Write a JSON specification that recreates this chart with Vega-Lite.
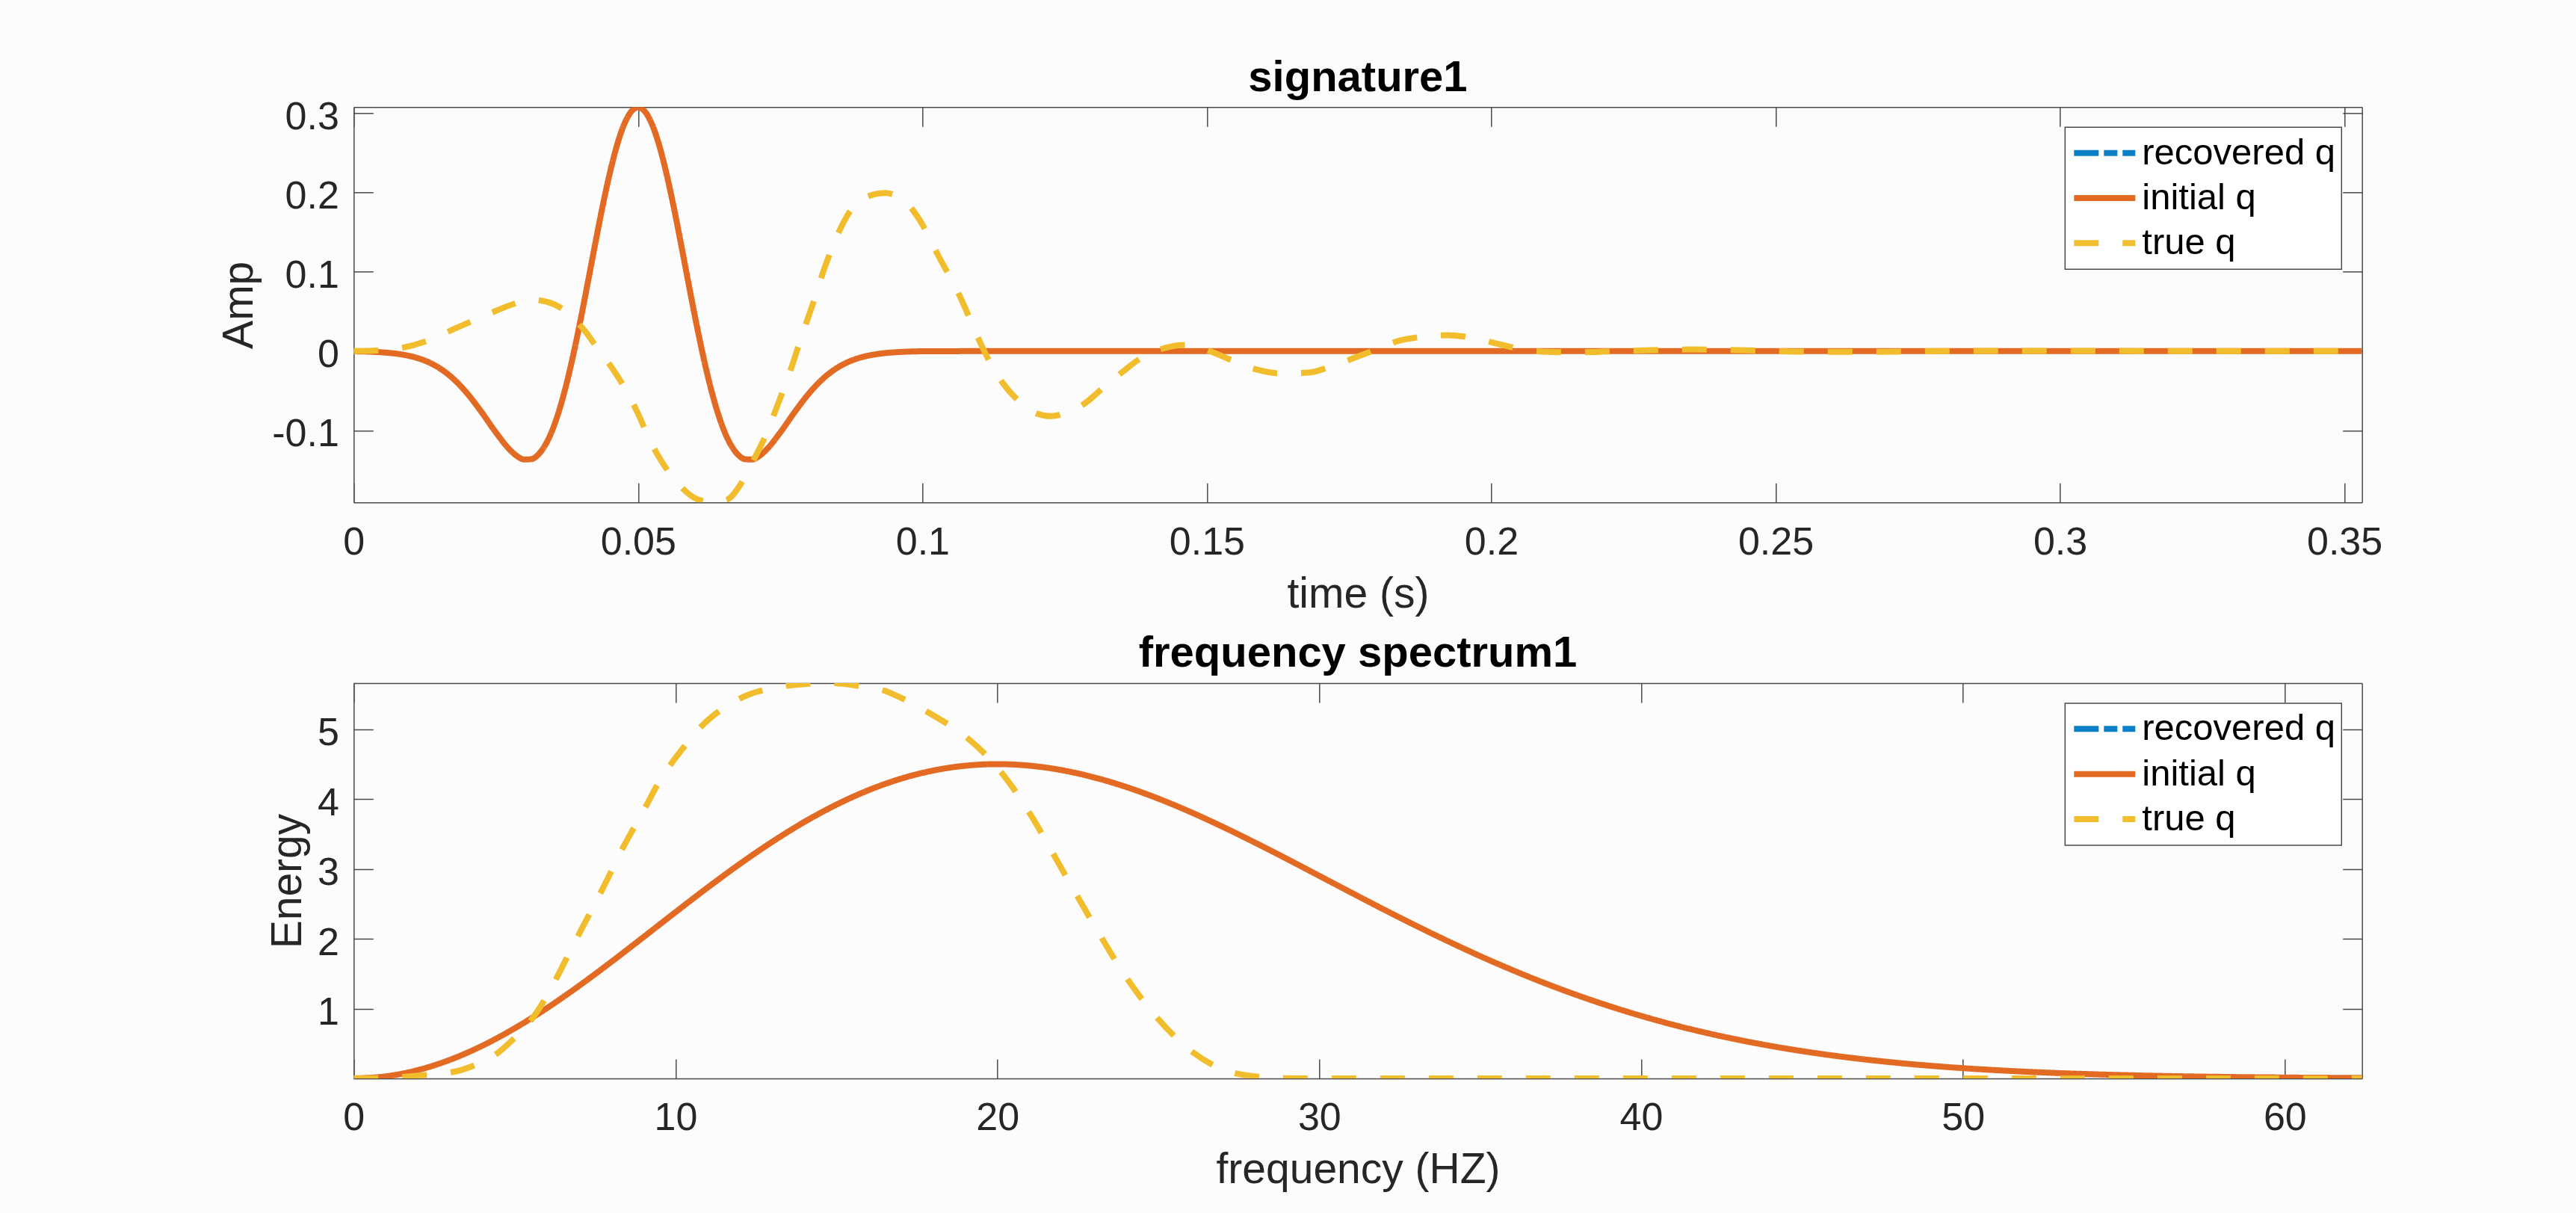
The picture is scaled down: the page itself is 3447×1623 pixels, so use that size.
{
  "$schema": "https://vega.github.io/schema/vega-lite/v6.json",
  "autosize": {"type": "none"},
  "padding": {"left": 473.3, "top": 143.3, "right": 2973.7, "bottom": 1479.7},
  "background": "#fcfcfc",
  "spacing": 241.7,
  "bounds": "flush",
  "datasets": {
    "sig": [
      {"s": "initial q", "t": 0, "v": -0.0003},
      {"s": "initial q", "t": 0.0025, "v": -0.0007},
      {"s": "initial q", "t": 0.005, "v": -0.0016},
      {"s": "initial q", "t": 0.0075, "v": -0.0033},
      {"s": "initial q", "t": 0.01, "v": -0.0065},
      {"s": "initial q", "t": 0.0125, "v": -0.012},
      {"s": "initial q", "t": 0.015, "v": -0.0211},
      {"s": "initial q", "t": 0.0175, "v": -0.0348},
      {"s": "initial q", "t": 0.02, "v": -0.0537},
      {"s": "initial q", "t": 0.0225, "v": -0.0771},
      {"s": "initial q", "t": 0.025, "v": -0.1025},
      {"s": "initial q", "t": 0.0275, "v": -0.1247},
      {"s": "initial q", "t": 0.02875, "v": -0.1325},
      {"s": "initial q", "t": 0.03, "v": -0.1366},
      {"s": "initial q", "t": 0.03125, "v": -0.1361},
      {"s": "initial q", "t": 0.0325, "v": -0.13},
      {"s": "initial q", "t": 0.03375, "v": -0.1174},
      {"s": "initial q", "t": 0.035, "v": -0.0981},
      {"s": "initial q", "t": 0.03625, "v": -0.0717},
      {"s": "initial q", "t": 0.0375, "v": -0.0387},
      {"s": "initial q", "t": 0.03875, "v": 0.0001},
      {"s": "initial q", "t": 0.04, "v": 0.0435},
      {"s": "initial q", "t": 0.04125, "v": 0.0897},
      {"s": "initial q", "t": 0.0425, "v": 0.1366},
      {"s": "initial q", "t": 0.04375, "v": 0.182},
      {"s": "initial q", "t": 0.045, "v": 0.2232},
      {"s": "initial q", "t": 0.04625, "v": 0.2582},
      {"s": "initial q", "t": 0.0475, "v": 0.2847},
      {"s": "initial q", "t": 0.04875, "v": 0.3013},
      {"s": "initial q", "t": 0.05, "v": 0.307},
      {"s": "initial q", "t": 0.05125, "v": 0.3013},
      {"s": "initial q", "t": 0.0525, "v": 0.2847},
      {"s": "initial q", "t": 0.05375, "v": 0.2582},
      {"s": "initial q", "t": 0.055, "v": 0.2232},
      {"s": "initial q", "t": 0.05625, "v": 0.182},
      {"s": "initial q", "t": 0.0575, "v": 0.1366},
      {"s": "initial q", "t": 0.05875, "v": 0.0897},
      {"s": "initial q", "t": 0.06, "v": 0.0435},
      {"s": "initial q", "t": 0.06125, "v": 0.0001},
      {"s": "initial q", "t": 0.0625, "v": -0.0387},
      {"s": "initial q", "t": 0.06375, "v": -0.0717},
      {"s": "initial q", "t": 0.065, "v": -0.0981},
      {"s": "initial q", "t": 0.06625, "v": -0.1174},
      {"s": "initial q", "t": 0.0675, "v": -0.13},
      {"s": "initial q", "t": 0.06875, "v": -0.1361},
      {"s": "initial q", "t": 0.07, "v": -0.1366},
      {"s": "initial q", "t": 0.07125, "v": -0.1325},
      {"s": "initial q", "t": 0.0725, "v": -0.1247},
      {"s": "initial q", "t": 0.075, "v": -0.1025},
      {"s": "initial q", "t": 0.0775, "v": -0.0771},
      {"s": "initial q", "t": 0.08, "v": -0.0537},
      {"s": "initial q", "t": 0.0825, "v": -0.0348},
      {"s": "initial q", "t": 0.085, "v": -0.0211},
      {"s": "initial q", "t": 0.0875, "v": -0.012},
      {"s": "initial q", "t": 0.09, "v": -0.0065},
      {"s": "initial q", "t": 0.0925, "v": -0.0033},
      {"s": "initial q", "t": 0.095, "v": -0.0016},
      {"s": "initial q", "t": 0.0975, "v": -0.0007},
      {"s": "initial q", "t": 0.1, "v": -0.0003},
      {"s": "initial q", "t": 0.12, "v": 0},
      {"s": "initial q", "t": 0.2, "v": 0},
      {"s": "initial q", "t": 0.3, "v": 0},
      {"s": "initial q", "t": 0.3531, "v": 0},
      {"s": "true q", "t": 0, "v": 0},
      {"s": "true q", "t": 0.004, "v": 0.0007},
      {"s": "true q", "t": 0.008, "v": 0.0035},
      {"s": "true q", "t": 0.013, "v": 0.013},
      {"s": "true q", "t": 0.018, "v": 0.029},
      {"s": "true q", "t": 0.0235, "v": 0.046},
      {"s": "true q", "t": 0.028, "v": 0.059},
      {"s": "true q", "t": 0.031, "v": 0.0648},
      {"s": "true q", "t": 0.034, "v": 0.062},
      {"s": "true q", "t": 0.0365, "v": 0.054},
      {"s": "true q", "t": 0.0385, "v": 0.0425},
      {"s": "true q", "t": 0.0408, "v": 0.024},
      {"s": "true q", "t": 0.043, "v": 0.002},
      {"s": "true q", "t": 0.0453, "v": -0.02},
      {"s": "true q", "t": 0.0476, "v": -0.046},
      {"s": "true q", "t": 0.05, "v": -0.079},
      {"s": "true q", "t": 0.0521, "v": -0.113},
      {"s": "true q", "t": 0.0544, "v": -0.142},
      {"s": "true q", "t": 0.0574, "v": -0.17},
      {"s": "true q", "t": 0.0604, "v": -0.1866},
      {"s": "true q", "t": 0.0632, "v": -0.1905},
      {"s": "true q", "t": 0.0657, "v": -0.187},
      {"s": "true q", "t": 0.068, "v": -0.168},
      {"s": "true q", "t": 0.0702, "v": -0.1386},
      {"s": "true q", "t": 0.0725, "v": -0.105},
      {"s": "true q", "t": 0.0747, "v": -0.0647},
      {"s": "true q", "t": 0.077, "v": -0.02},
      {"s": "true q", "t": 0.0785, "v": 0.013},
      {"s": "true q", "t": 0.0808, "v": 0.061},
      {"s": "true q", "t": 0.083, "v": 0.109},
      {"s": "true q", "t": 0.0853, "v": 0.15},
      {"s": "true q", "t": 0.0876, "v": 0.1795},
      {"s": "true q", "t": 0.0905, "v": 0.195},
      {"s": "true q", "t": 0.0934, "v": 0.199},
      {"s": "true q", "t": 0.0965, "v": 0.191},
      {"s": "true q", "t": 0.0995, "v": 0.165},
      {"s": "true q", "t": 0.1025, "v": 0.124},
      {"s": "true q", "t": 0.1067, "v": 0.067},
      {"s": "true q", "t": 0.11, "v": 0.013},
      {"s": "true q", "t": 0.1117, "v": -0.012},
      {"s": "true q", "t": 0.1142, "v": -0.041},
      {"s": "true q", "t": 0.1171, "v": -0.064},
      {"s": "true q", "t": 0.1195, "v": -0.077},
      {"s": "true q", "t": 0.1226, "v": -0.082},
      {"s": "true q", "t": 0.1255, "v": -0.077},
      {"s": "true q", "t": 0.1285, "v": -0.066},
      {"s": "true q", "t": 0.1318, "v": -0.046},
      {"s": "true q", "t": 0.1352, "v": -0.026},
      {"s": "true q", "t": 0.1385, "v": -0.0085},
      {"s": "true q", "t": 0.1427, "v": 0.004},
      {"s": "true q", "t": 0.1455, "v": 0.0075},
      {"s": "true q", "t": 0.148, "v": 0.006},
      {"s": "true q", "t": 0.151, "v": -0.0014},
      {"s": "true q", "t": 0.1545, "v": -0.012},
      {"s": "true q", "t": 0.1586, "v": -0.023},
      {"s": "true q", "t": 0.1628, "v": -0.028},
      {"s": "true q", "t": 0.1679, "v": -0.027},
      {"s": "true q", "t": 0.1712, "v": -0.021},
      {"s": "true q", "t": 0.1754, "v": -0.01},
      {"s": "true q", "t": 0.1796, "v": 0.0015},
      {"s": "true q", "t": 0.1838, "v": 0.013},
      {"s": "true q", "t": 0.188, "v": 0.018},
      {"s": "true q", "t": 0.1922, "v": 0.02},
      {"s": "true q", "t": 0.1964, "v": 0.017},
      {"s": "true q", "t": 0.2006, "v": 0.01},
      {"s": "true q", "t": 0.2048, "v": 0.003},
      {"s": "true q", "t": 0.2098, "v": -0.001},
      {"s": "true q", "t": 0.215, "v": -0.0015},
      {"s": "true q", "t": 0.225, "v": 0.0005},
      {"s": "true q", "t": 0.235, "v": 0.002},
      {"s": "true q", "t": 0.245, "v": 0.001},
      {"s": "true q", "t": 0.255, "v": -0.0008},
      {"s": "true q", "t": 0.265, "v": -0.001},
      {"s": "true q", "t": 0.28, "v": 0},
      {"s": "true q", "t": 0.3, "v": 0.0003},
      {"s": "true q", "t": 0.32, "v": 0},
      {"s": "true q", "t": 0.3531, "v": 0}
    ],
    "spec": [
      {"s": "initial q", "f": 0, "e": 0},
      {"s": "initial q", "f": 1, "e": 0.0305},
      {"s": "initial q", "f": 2, "e": 0.1211},
      {"s": "initial q", "f": 3, "e": 0.2691},
      {"s": "initial q", "f": 4, "e": 0.4701},
      {"s": "initial q", "f": 5, "e": 0.7182},
      {"s": "initial q", "f": 6, "e": 1.0061},
      {"s": "initial q", "f": 7, "e": 1.3257},
      {"s": "initial q", "f": 8, "e": 1.6678},
      {"s": "initial q", "f": 9, "e": 2.023},
      {"s": "initial q", "f": 10, "e": 2.3816},
      {"s": "initial q", "f": 11, "e": 2.7345},
      {"s": "initial q", "f": 12, "e": 3.0723},
      {"s": "initial q", "f": 13, "e": 3.3869},
      {"s": "initial q", "f": 14, "e": 3.672},
      {"s": "initial q", "f": 15, "e": 3.9204},
      {"s": "initial q", "f": 16, "e": 4.1279},
      {"s": "initial q", "f": 17, "e": 4.2911},
      {"s": "initial q", "f": 18, "e": 4.4076},
      {"s": "initial q", "f": 19, "e": 4.4771},
      {"s": "initial q", "f": 20, "e": 4.5},
      {"s": "initial q", "f": 21, "e": 4.478},
      {"s": "initial q", "f": 22, "e": 4.4137},
      {"s": "initial q", "f": 23, "e": 4.3105},
      {"s": "initial q", "f": 24, "e": 4.1733},
      {"s": "initial q", "f": 25, "e": 4.0063},
      {"s": "initial q", "f": 26, "e": 3.8146},
      {"s": "initial q", "f": 27, "e": 3.603},
      {"s": "initial q", "f": 28, "e": 3.3772},
      {"s": "initial q", "f": 29, "e": 3.1421},
      {"s": "initial q", "f": 30, "e": 2.9008},
      {"s": "initial q", "f": 31, "e": 2.6596},
      {"s": "initial q", "f": 32, "e": 2.4204},
      {"s": "initial q", "f": 33, "e": 2.1881},
      {"s": "initial q", "f": 34, "e": 1.965},
      {"s": "initial q", "f": 35, "e": 1.7516},
      {"s": "initial q", "f": 36, "e": 1.5522},
      {"s": "initial q", "f": 37, "e": 1.366},
      {"s": "initial q", "f": 38, "e": 1.1945},
      {"s": "initial q", "f": 39, "e": 1.038},
      {"s": "initial q", "f": 40, "e": 0.8962},
      {"s": "initial q", "f": 41, "e": 0.7687},
      {"s": "initial q", "f": 42, "e": 0.6557},
      {"s": "initial q", "f": 43, "e": 0.5558},
      {"s": "initial q", "f": 44, "e": 0.4681},
      {"s": "initial q", "f": 45, "e": 0.3919},
      {"s": "initial q", "f": 46, "e": 0.3262},
      {"s": "initial q", "f": 47, "e": 0.2698},
      {"s": "initial q", "f": 48, "e": 0.222},
      {"s": "initial q", "f": 49, "e": 0.1815},
      {"s": "initial q", "f": 50, "e": 0.1476},
      {"s": "initial q", "f": 51, "e": 0.1193},
      {"s": "initial q", "f": 52, "e": 0.0959},
      {"s": "initial q", "f": 53, "e": 0.0766},
      {"s": "initial q", "f": 54, "e": 0.0609},
      {"s": "initial q", "f": 55, "e": 0.0481},
      {"s": "initial q", "f": 56, "e": 0.0378},
      {"s": "initial q", "f": 57, "e": 0.0295},
      {"s": "initial q", "f": 58, "e": 0.0229},
      {"s": "initial q", "f": 59, "e": 0.0177},
      {"s": "initial q", "f": 60, "e": 0.0136},
      {"s": "initial q", "f": 61, "e": 0.0104},
      {"s": "initial q", "f": 62, "e": 0.0079},
      {"s": "initial q", "f": 62.4, "e": 0.0071},
      {"s": "true q", "f": 0, "e": 0},
      {"s": "true q", "f": 1, "e": 0.008},
      {"s": "true q", "f": 1.87, "e": 0.035},
      {"s": "true q", "f": 2.5, "e": 0.06},
      {"s": "true q", "f": 3.33, "e": 0.12},
      {"s": "true q", "f": 4.0, "e": 0.24},
      {"s": "true q", "f": 4.4, "e": 0.34},
      {"s": "true q", "f": 4.93, "e": 0.55},
      {"s": "true q", "f": 5.47, "e": 0.81},
      {"s": "true q", "f": 5.87, "e": 1.08},
      {"s": "true q", "f": 6.27, "e": 1.41},
      {"s": "true q", "f": 6.67, "e": 1.77},
      {"s": "true q", "f": 7.07, "e": 2.13},
      {"s": "true q", "f": 7.47, "e": 2.48},
      {"s": "true q", "f": 7.87, "e": 2.84},
      {"s": "true q", "f": 8.27, "e": 3.22},
      {"s": "true q", "f": 8.67, "e": 3.56},
      {"s": "true q", "f": 9.07, "e": 3.89},
      {"s": "true q", "f": 9.47, "e": 4.23},
      {"s": "true q", "f": 9.87, "e": 4.51},
      {"s": "true q", "f": 10.27, "e": 4.75},
      {"s": "true q", "f": 10.8, "e": 5.04},
      {"s": "true q", "f": 11.33, "e": 5.25},
      {"s": "true q", "f": 12.0, "e": 5.44},
      {"s": "true q", "f": 12.8, "e": 5.57},
      {"s": "true q", "f": 13.73, "e": 5.636},
      {"s": "true q", "f": 14.8, "e": 5.66},
      {"s": "true q", "f": 15.7, "e": 5.62},
      {"s": "true q", "f": 16.5, "e": 5.55},
      {"s": "true q", "f": 17.0, "e": 5.45},
      {"s": "true q", "f": 18.0, "e": 5.2},
      {"s": "true q", "f": 19.0, "e": 4.9},
      {"s": "true q", "f": 20.0, "e": 4.45},
      {"s": "true q", "f": 20.5, "e": 4.15},
      {"s": "true q", "f": 21.0, "e": 3.8},
      {"s": "true q", "f": 22.0, "e": 3.0},
      {"s": "true q", "f": 23.0, "e": 2.2},
      {"s": "true q", "f": 24.0, "e": 1.45},
      {"s": "true q", "f": 25.0, "e": 0.85},
      {"s": "true q", "f": 26.0, "e": 0.4},
      {"s": "true q", "f": 27.0, "e": 0.13},
      {"s": "true q", "f": 28.0, "e": 0.03},
      {"s": "true q", "f": 29.0, "e": 0.004},
      {"s": "true q", "f": 30.0, "e": 0},
      {"s": "true q", "f": 40.0, "e": 0},
      {"s": "true q", "f": 50.0, "e": 0},
      {"s": "true q", "f": 62.4, "e": 0}
    ]
  },
  "resolve": {
    "scale": {"color": "independent", "strokeDash": "independent"},
    "legend": {"color": "independent", "strokeDash": "independent"}
  },
  "vconcat": [
    {
      "width": 2687.4,
      "height": 529,
      "title": {"text": "signature1", "frame": "group", "anchor": "middle", "offset": -3.7, "font": "Liberation Sans", "fontSize": 58, "fontWeight": "bold", "color": "#000000"},
      "data": {"name": "sig"},
      "layer": [
        {
          "transform": [{"filter": "datum.s === 'initial q'"}],
          "mark": {"type": "line", "strokeWidth": 8, "interpolate": "monotone", "clip": true},
          "encoding": {
            "x": {"field": "t", "type": "quantitative",
              "scale": {"domain": [0, 0.3531], "nice": false, "zero": false},
              "axis": {"orient": "bottom", "values": [0, 0.05, 0.1, 0.15, 0.2, 0.25, 0.3, 0.35], "labelExpr": "replace(format(datum.value, '~g'), '\u2212', '-')", "labelPadding": 54, "title": "time (s)", "titlePadding": 16}},
            "y": {"field": "v", "type": "quantitative",
              "scale": {"domain": [-0.1907, 0.3073], "nice": false, "zero": false},
              "axis": {"orient": "left", "values": [-0.1, 0, 0.1, 0.2, 0.3], "labelExpr": "replace(format(datum.value, '~g'), '\u2212', '-')", "labelPadding": 46, "labelOffset": 5, "title": "Amp", "titlePadding": 14}},
            "color": {"field": "s", "type": "nominal", "scale": {"domain": ["recovered q", "initial q", "true q"], "range": ["#0a80c8", "#e26a22", "#f2bd2c"]}},
            "strokeDash": {"field": "s", "type": "nominal", "scale": {"domain": ["recovered q", "initial q", "true q"], "range": [[33, 7, 18, 7], [1, 0], [33, 32]]}}
          }
        },
        {
          "transform": [{"filter": "datum.s === 'true q'"}],
          "mark": {"type": "line", "strokeWidth": 8, "interpolate": "monotone", "clip": true},
          "encoding": {
            "x": {"field": "t", "type": "quantitative",
              "axis": {"orient": "top", "values": [0, 0.05, 0.1, 0.15, 0.2, 0.25, 0.3, 0.35], "labels": false, "title": null}},
            "y": {"field": "v", "type": "quantitative",
              "axis": {"orient": "right", "values": [-0.1, 0, 0.1, 0.2, 0.3], "labels": false, "title": null}},
            "color": {"field": "s", "type": "nominal"},
            "strokeDash": {"field": "s", "type": "nominal"}
          }
        }
      ],
      "resolve": {"axis": {"x": "independent", "y": "independent"}}
    },
    {
      "width": 2687.4,
      "height": 529,
      "title": {"text": "frequency spectrum1", "frame": "group", "anchor": "middle", "offset": 9.5, "font": "Liberation Sans", "fontSize": 58, "fontWeight": "bold", "color": "#000000"},
      "data": {"name": "spec"},
      "layer": [
        {
          "transform": [{"filter": "datum.s === 'initial q'"}],
          "mark": {"type": "line", "strokeWidth": 8, "interpolate": "monotone", "clip": true},
          "encoding": {
            "x": {"field": "f", "type": "quantitative",
              "scale": {"domain": [0, 62.4], "nice": false, "zero": false},
              "axis": {"orient": "bottom", "values": [0, 10, 20, 30, 40, 50, 60], "labelPadding": 54, "title": "frequency (HZ)", "titlePadding": 16}},
            "y": {"field": "e", "type": "quantitative",
              "scale": {"domain": [0, 5.66], "nice": false, "zero": false},
              "axis": {"orient": "left", "values": [1, 2, 3, 4, 5], "labelPadding": 46, "labelOffset": 5, "title": "Energy", "titlePadding": 10}},
            "color": {"field": "s", "type": "nominal", "scale": {"domain": ["recovered q", "initial q", "true q"], "range": ["#0a80c8", "#e26a22", "#f2bd2c"]}},
            "strokeDash": {"field": "s", "type": "nominal", "scale": {"domain": ["recovered q", "initial q", "true q"], "range": [[33, 7, 18, 7], [1, 0], [33, 32]]}}
          }
        },
        {
          "transform": [{"filter": "datum.s === 'true q'"}],
          "mark": {"type": "line", "strokeWidth": 8, "interpolate": "monotone", "clip": true},
          "encoding": {
            "x": {"field": "f", "type": "quantitative",
              "axis": {"orient": "top", "values": [0, 10, 20, 30, 40, 50, 60], "labels": false, "title": null}},
            "y": {"field": "e", "type": "quantitative",
              "axis": {"orient": "right", "values": [1, 2, 3, 4, 5], "labels": false, "title": null}},
            "color": {"field": "s", "type": "nominal"},
            "strokeDash": {"field": "s", "type": "nominal"}
          }
        }
      ],
      "resolve": {"axis": {"x": "independent", "y": "independent"}}
    }
  ],
  "config": {
    "view": {"stroke": null},
    "axis": {
      "grid": false,
      "domain": true,
      "domainColor": "#4a4a4a",
      "domainWidth": 1.5,
      "ticks": true,
      "tickColor": "#4a4a4a",
      "tickWidth": 1.5,
      "tickSize": -26,
      "labelFont": "Liberation Sans",
      "labelFontSize": 52,
      "labelColor": "#262626",
      "labelFlush": false,
      "labelOverlap": false,
      "labelBound": false,
      "titleFont": "Liberation Sans",
      "titleFontSize": 57,
      "titleFontWeight": "normal",
      "titleColor": "#262626"
    },
    "legend": {
      "title": null,
      "orient": "top-right",
      "offset": 27,
      "symbolType": "stroke",
      "symbolSize": 6724,
      "symbolStrokeWidth": 8,
      "labelFont": "Liberation Sans",
      "labelFontSize": 49,
      "labelColor": "#000000",
      "labelLimit": 0,
      "labelOffset": 5,
      "padding": 8,
      "rowPadding": 7.3,
      "clipHeight": 52.7,
      "strokeColor": "#4a4a4a",
      "strokeWidth": 1.5,
      "fillColor": "#ffffff",
      "cornerRadius": 0
    }
  }
}
